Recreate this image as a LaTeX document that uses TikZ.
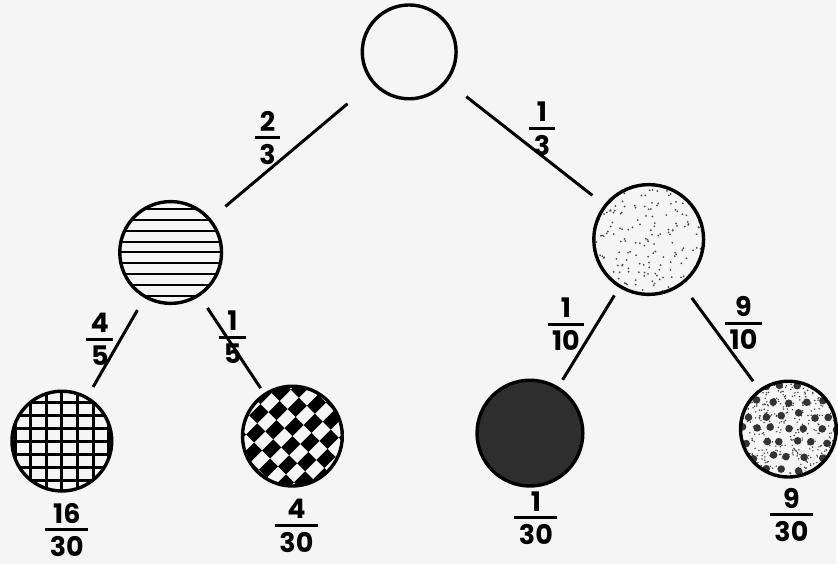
\documentclass[tikz,border=0pt]{standalone}
\usepackage{fontspec}
\setmainfont{Poppins}
\usetikzlibrary{positioning}

\newcommand{\frc}[2]{\vbox{\offinterlineskip\halign{\hfil\,##\,\hfil\cr #1\cr
    \noalign{\kern2.5pt\hrule height1.5pt\kern2.5pt}#2\cr}}}

\begin{document}
\begin{tikzpicture}[
    x=0.5pt, y=-0.5pt,
    ball/.style={circle, draw, line width=1.7pt, inner sep=0pt},
    link/.style={line width=1.5pt},
    frac/.style={font=\fontsize{13.5}{16}\selectfont\bfseries, inner sep=0pt},
    hatch/.style={path picture={
        \begin{scope}[shift={(path picture bounding box.center)}]
        \foreach \k in {-5,...,5} \draw[line width=1pt] (-30pt,\k*5.5pt) -- (30pt,\k*5.5pt);
        \end{scope}}},
    mesh/.style={path picture={
        \begin{scope}[shift={(path picture bounding box.center)}]
        \foreach \k in {-4,...,4} \draw[line width=1.5pt] (\k*7.8pt,-30pt) -- (\k*7.8pt,30pt);
        \foreach \k in {-5,...,5} \draw[line width=1.5pt] (-30pt,\k*6.5pt) -- (30pt,\k*6.5pt);
        \end{scope}}},
    checks/.style={path picture={
        \begin{scope}[shift={(path picture bounding box.center)},
                      x={(5.6pt,5.6pt)}, y={(-4pt,4pt)}]
        \foreach \i in {-5,...,5} \foreach \j in {-7,...,7} {
            \pgfmathparse{int(mod(\i+\j+20,2))}
            \ifnum\pgfmathresult=0 \fill (\i,\j) -- ++(1,0) -- ++(0,1) -- ++(-1,0) -- cycle; \fi
        }
        \end{scope}}},
    specks/.style={path picture={
        \pgfmathsetseed{7}
        \begin{scope}[shift={(path picture bounding box.center)}]
        \foreach \i in {1,...,210} \fill[black!70] (rand*28pt, rand*28pt) circle (0.5pt);
        \end{scope}}},
    spots/.style={path picture={
        \pgfmathsetseed{11}
        \begin{scope}[shift={(path picture bounding box.center)}]
        \foreach \i in {1,...,450} \fill[black!75] (rand*25pt, rand*25pt) circle (0.4pt);
        \foreach \i in {-3,...,3} \foreach \j in {-3,...,3}
            \fill[black!80] (\i*8pt+\j*4pt+rand*1.5pt, \j*7pt+rand*1.5pt) circle (1.9pt);
        \end{scope}}}
]
    % paper
    \fill[black!4] (0,0) rectangle (838,565);

    \node (top) [ball, minimum size=47pt] at (410,52) {};
    \node (left) [ball, minimum size=51pt, hatch] at (171,253) {};
    \node (right) [ball, minimum size=55pt, specks] at (650,240) {};
    \node (ll) [ball, minimum size=50pt, mesh] at (62,442) {};
    \node (lr) [ball, minimum size=50pt, checks] at (293,437) {};
    \node (rl) [ball, minimum size=53pt, fill=black!82] at (531,434) {};
    \node (rr) [ball, minimum size=48pt, spots] at (790,430) {};

    \draw [link, shorten <=16pt, shorten >=9.5pt] (top) -- (left);
    \draw [link, shorten <=12pt, shorten >=7.5pt] (top) -- (right);
    \draw [link, shorten <=7pt, shorten >=5.5pt] (left) -- (ll);
    \draw [link, shorten <=7pt, shorten >=3pt] (left) -- (lr);
    \draw [link, shorten <=4.5pt, shorten >=4pt] (right) -- (rl);
    \draw [link, shorten <=8pt, shorten >=5pt] (right) -- (rr);

    % branch weights
    \node (p23) [frac] at (268,138) {\frc{2}{3}};
    \node (p13) [frac] at (543,129) {\frc{1}{3}};
    \node (p45) [frac] at (100,340) {\frc{4}{5}};
    \node (p15) [frac] at (233,338) {\frc{1}{5}};
    \node (p110) [frac] at (567,325) {\frc{1}{10}};
    \node (p910) [frac] at (745,324) {\frc{9}{10}};

    % leaf results
    \node (q16) [frac] at (67,531) {\frc{16}{30}};
    \node (q4) [frac] at (297,527) {\frc{4}{30}};
    \node (q1) [frac] at (537,519) {\frc{1}{30}};
    \node (q9) [frac] at (793,516) {\frc{9}{30}};
\end{tikzpicture}
\end{document}
